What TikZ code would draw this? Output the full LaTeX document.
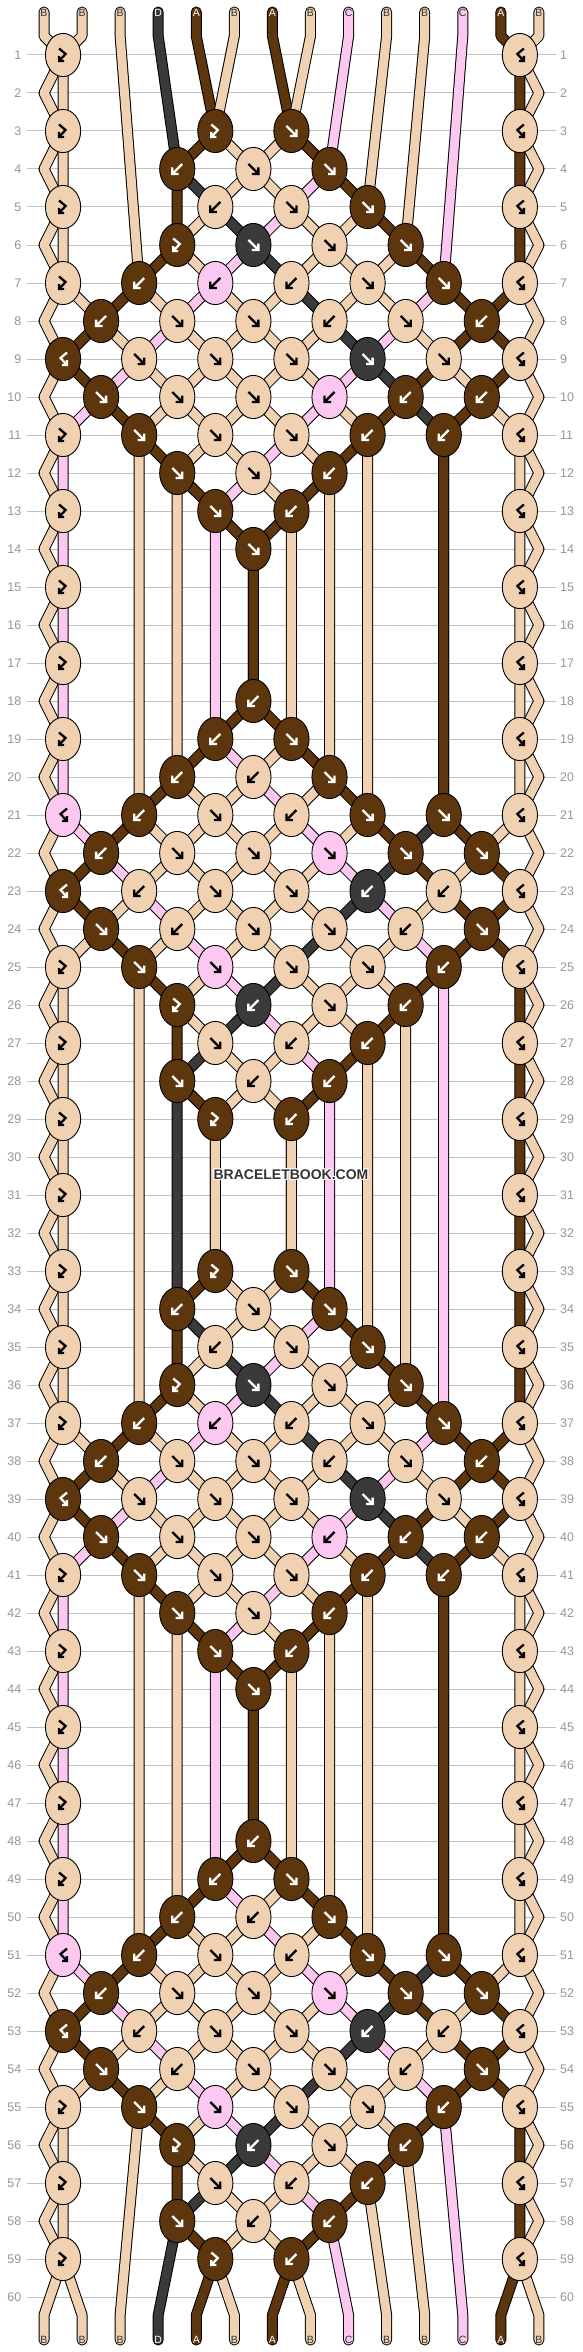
\documentclass[tikz,border=0pt]{standalone}
\usepackage{fontspec}
\setmainfont{Liberation Sans}
\definecolor{cA}{RGB}{94,54,14}
\definecolor{cB}{RGB}{240,210,178}
\definecolor{cC}{RGB}{253,200,240}
\definecolor{cD}{RGB}{58,58,58}
\colorlet{aA}{white}
\colorlet{aB}{black}
\colorlet{aC}{black}
\colorlet{aD}{white}
\colorlet{tA}{white}
\colorlet{tB}{black!80}
\colorlet{tC}{black!80}
\colorlet{tD}{white}
\definecolor{gridc}{RGB}{192,192,192}
\definecolor{numc}{RGB}{150,150,150}
\definecolor{logoc}{RGB}{51,51,51}

\makeatletter
% knot types: 0 none, 1 forward, 2 backward, 3 forward-backward, 4 backward-forward
\@namedef{rd1}{3,0,0,0,0,0,4}
\@namedef{rd2}{0,0,0,0,0,0}
\@namedef{rd3}{3,0,3,1,0,0,4}
\@namedef{rd4}{0,2,1,1,0,0}
\@namedef{rd5}{3,0,2,1,1,0,4}
\@namedef{rd6}{0,3,1,1,1,0}
\@namedef{rd7}{3,2,2,2,1,1,4}
\@namedef{rd8}{2,1,1,2,1,2}
\@namedef{rd9}{4,1,1,1,1,1,4}
\@namedef{rd10}{1,1,1,2,2,2}
\@namedef{rd11}{3,1,1,1,2,2,4}
\@namedef{rd12}{0,1,1,2,0,0}
\@namedef{rd13}{3,0,1,2,0,0,4}
\@namedef{rd14}{0,0,1,0,0,0}
\@namedef{rd15}{3,0,0,0,0,0,4}
\@namedef{rd16}{0,0,0,0,0,0}
\@namedef{rd17}{3,0,0,0,0,0,4}
\@namedef{rd18}{0,0,2,0,0,0}
\@namedef{rd19}{3,0,2,1,0,0,4}
\@namedef{rd20}{0,2,2,1,0,0}
\@namedef{rd21}{4,2,1,2,1,1,4}
\@namedef{rd22}{2,1,1,1,1,1}
\@namedef{rd23}{4,2,1,1,2,2,4}
\@namedef{rd24}{1,2,1,1,2,1}
\@namedef{rd25}{3,1,1,1,1,2,4}
\@namedef{rd26}{0,3,2,1,2,0}
\@namedef{rd27}{3,0,1,2,2,0,4}
\@namedef{rd28}{0,1,2,2,0,0}
\@namedef{rd29}{3,0,3,2,0,0,4}
\@namedef{rd30}{0,0,0,0,0,0}
\makeatother

\def\initcols{B,B,B,D,A,B,A,B,C,B,B,C,A,B}

\newcommand\appendpt[2]{%
  \expandafter\xdef\csname SP#1\endcsname{\csname SP#1\endcsname\space--\space#2}%
}

\newcommand\procknot[3]{%
  \ifnum#3>0\relax
    \ifodd\numexpr#1\relax
      \edef\pp{\the\numexpr2*#2\relax}%
    \else
      \edef\pp{\the\numexpr2*#2+1\relax}%
    \fi
    \edef\pq{\the\numexpr\pp+1\relax}%
    \edef\sL{\csname P\pp\endcsname}%
    \edef\sR{\csname P\pq\endcsname}%
    \pgfmathsetmacro\kx{44+38.07*(\pp+0.5)}%
    \pgfmathsetmacro\ky{55+38*(#1-1)}%
    \pgfmathsetmacro\kz{55+38*(#1-2)}%
    \ifnum\pp=0\relax\ifnum#1>1\relax
      \appendpt{\sL}{(44,\kz)}%
    \fi\fi
    \ifnum\pq=13\relax\ifnum#1>1\relax
      \appendpt{\sR}{(539,\kz)}%
    \fi\fi
    \appendpt{\sL}{(\kx,\ky)}%
    \appendpt{\sR}{(\kx,\ky)}%
    \ifnum#3=1\relax \edef\kc{\csname SC\sL\endcsname}\fi
    \ifnum#3=3\relax \edef\kc{\csname SC\sL\endcsname}\fi
    \ifnum#3=2\relax \edef\kc{\csname SC\sR\endcsname}\fi
    \ifnum#3=4\relax \edef\kc{\csname SC\sR\endcsname}\fi
    \ifnum#3<3\relax
      \expandafter\xdef\csname P\pp\endcsname{\sR}%
      \expandafter\xdef\csname P\pq\endcsname{\sL}%
    \fi
    \xdef\knotlist{\unexpanded\expandafter{\knotlist}\noexpand\drawknot{\kx}{\ky}{\kc}{#3}}%
  \fi
}

\newcommand\drawknot[4]{%
  \begin{scope}[shift={(#1,#2)}]
    \draw[line width=0.9pt, fill=c#3] (0,0) ellipse [x radius=17.6pt, y radius=21.6pt];
    \ifcase#4\relax
    \or
      \draw[icon, draw=a#3] (-5,-5) -- (5,5) (-1.5,5) -- (5,5) -- (5,-1.5);
    \or
      \draw[icon, draw=a#3] (5,-5) -- (-5,5) (1.5,5) -- (-5,5) -- (-5,-1.5);
    \or
      \draw[icon, draw=a#3] (-4,-6.5) -- (2.5,-1) -- (-4,6) (-4,1) -- (-4,6) -- (1,6);
    \or
      \draw[icon, draw=a#3] (4,-6.5) -- (-2.5,-1) -- (4,6) (4,1) -- (4,6) -- (-1,6);
    \fi
  \end{scope}%
}

\tikzset{
  strand/.style={line width=1pt, draw=black, double distance=9pt, line join=round, line cap=round},
  icon/.style={line width=2.3pt, line cap=butt, line join=miter},
  lbl/.style={font=\fontsize{10.5}{10.5}\selectfont, inner sep=0pt},
  rownum/.style={font=\fontsize{12.5}{12.5}\selectfont, text=numc, inner sep=0pt},
  logo/.style={font=\fontsize{14}{14}\selectfont\bfseries, inner sep=0pt},
  gridline/.style={draw=gridc, line width=1pt}
}

\begin{document}
\begin{tikzpicture}[x=1pt, y=-1pt]
\fill[white] (0,0) rectangle (582,2352);
\useasboundingbox (0,0) rectangle (582,2352);

% grid and row numbers
\foreach \myR in {1,...,60} {
  \pgfmathsetmacro\yy{55+38*(\myR-1)}
  \draw[gridline] (27,\yy) -- (556,\yy);
  \node[rownum, anchor=east] at (21.5,\yy) {\myR};
  \node[rownum, anchor=west] at (560,\yy) {\myR};
}

% initial state
\foreach \cc [count=\ii from 0] in \initcols {
  \expandafter\xdef\csname P\ii\endcsname{\ii}
  \expandafter\xdef\csname SC\ii\endcsname{\cc}
  \pgfmathsetmacro\xx{44+38.07*\ii}
  \expandafter\xdef\csname SP\ii\endcsname{(\xx,12) -- (\xx,36)}
}
\gdef\knotlist{}

% simulate rows
\foreach \myR in {1,...,60} {
  \ifnum\myR>30\relax \edef\rr{\the\numexpr\myR-30\relax}\else\edef\rr{\myR}\fi
  \edef\rowlist{\csname rd\rr\endcsname}
  \foreach \myT [count=\myK from 0] in \rowlist {
    \procknot{\myR}{\myK}{\myT}
  }
}

% ends
\foreach \pos in {0,...,13} {
  \edef\sid{\csname P\pos\endcsname}
  \pgfmathsetmacro\xx{44+38.07*\pos}
  \appendpt{\sid}{(\xx,2315) -- (\xx,2340)}
}

% draw strands
\foreach \sid in {0,...,13} {
  \edef\col{\csname SC\sid\endcsname}
  \edef\tmp{\noexpand\draw[strand, double=c\col] \csname SP\sid\endcsname;}
  \tmp
}

% knots
\knotlist

% strand letters
\foreach \cc [count=\ii from 0] in \initcols {
  \pgfmathsetmacro\xx{44+38.07*\ii}
  \node[lbl, text=t\cc] (top\ii) at (\xx,13) {\cc};
  \node[lbl, text=t\cc] (bot\ii) at (\xx,2340) {\cc};
}

% logo
\foreach \dx/\dy in {-1/0,1/0,0/-1,0/1,-1/-1,1/1,-1/1,1/-1} {
  \node[logo, text=white] at ({291+\dx},{1175+\dy}) {BRACELETBOOK.COM};
}
\node[logo, text=logoc] (logo) at (291,1175) {BRACELETBOOK.COM};
\end{tikzpicture}
\end{document}
